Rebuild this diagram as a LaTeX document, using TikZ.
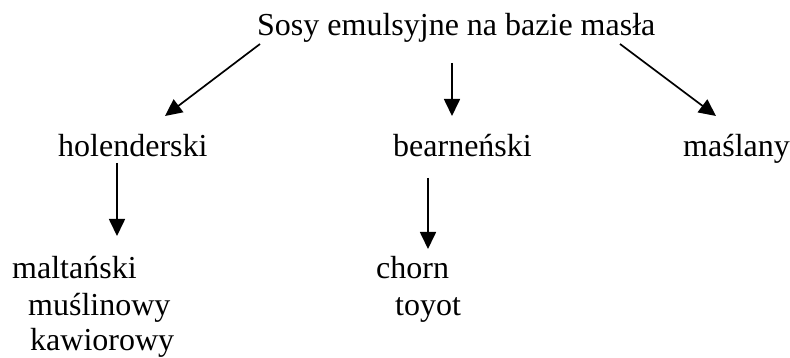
\documentclass[tikz,border=0pt]{standalone}
\usepackage{fontspec}
\setmainfont{Liberation Serif}
\usetikzlibrary{arrows.meta}
\begin{document}
\begin{tikzpicture}[x=1pt,y=-1pt,
  lbl/.style={anchor=base west,inner sep=0pt,font=\fontsize{32}{36}\selectfont},
  arr/.style={line width=1.7pt,-{Triangle[length=17pt,width=16pt]}}]
\useasboundingbox (0,0) rectangle (790,358);
% headings
\node[lbl] (title) at (257,36) {Sosy emulsyjne na bazie masła};
\node[lbl] (hol) at (58,157) {holenderski};
\node[lbl] (bear) at (393,157) {bearneński};
\node[lbl] (masl) at (683,157) {maślany};
% sub-lists
\node[lbl] (malt) at (12,279) {maltański};
\node[lbl] (musl) at (28,315) {muślinowy};
\node[lbl] (kaw) at (30,350) {kawiorowy};
\node[lbl] (chorn) at (376,279) {chorn};
\node[lbl] (toyot) at (395,315) {toyot};
% arrow end points
\coordinate (t1) at (260,44);
\coordinate (t2) at (452,63);
\coordinate (t3) at (620,44);
\coordinate (h1) at (165,116);
\coordinate (b1) at (452,116);
\coordinate (m1) at (716,116);
\coordinate (hs) at (117,163);
\coordinate (he) at (117,236);
\coordinate (bs) at (428,178);
\coordinate (be) at (428,249);
\draw[arr] (t1) -- (h1);
\draw[arr] (t2) -- (b1);
\draw[arr] (t3) -- (m1);
\draw[arr] (hs) -- (he);
\draw[arr] (bs) -- (be);
\end{tikzpicture}
\end{document}
